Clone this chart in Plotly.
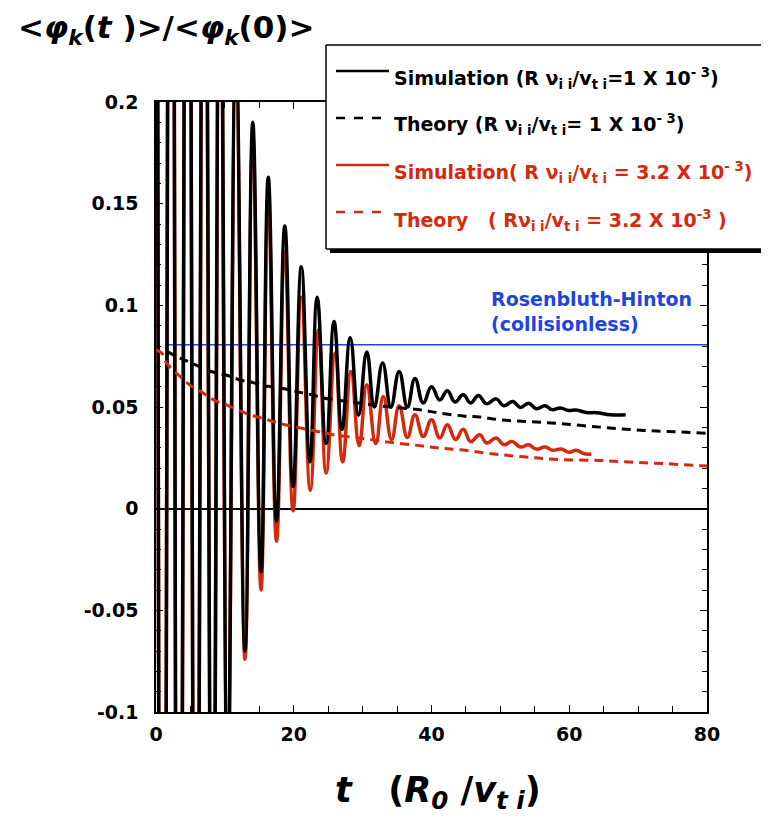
import plotly.graph_objects as go

# ---------------- data ----------------
sim1_t = [0.0, 0.95, 2.2, 3.3, 4.6, 5.8, 7.0, 8.2, 9.3, 10.4, 11.6, 12.92, 14.05, 15.25, 16.3, 17.5,
          18.7, 19.9, 21.1, 22.35, 23.4, 24.7, 25.85, 27.0, 28.2, 29.4, 30.6, 31.7, 32.9, 34.1,
          35.3, 36.5, 37.6, 38.8, 40.0, 41.2, 42.3, 43.4, 44.6, 45.7, 46.8, 48.0, 49.4, 50.5,
          51.8, 52.9, 54.1, 55.2, 56.5, 57.5, 58.7, 59.9, 61.0, 62.5, 64.0, 66.0, 68.2]
sim1_v = [1.0, -0.6, 0.6, -0.45, 0.5, -0.35, 0.42, -0.25, 0.33, -0.14, 0.23, -0.070, 0.190, -0.031, 0.163, -0.006,
          0.139, 0.011, 0.119, 0.023, 0.104, 0.032, 0.092, 0.039, 0.084, 0.046, 0.077, 0.050, 0.0716, 0.050,
          0.0675, 0.050, 0.064, 0.052, 0.060, 0.0535, 0.058, 0.0525, 0.056, 0.052, 0.0557, 0.0516, 0.054, 0.0506,
          0.0527, 0.0498, 0.0519, 0.0491, 0.0506, 0.0487, 0.0495, 0.0483, 0.0485, 0.0473, 0.0472, 0.0462, 0.0462]

sim2_t = [0.0, 0.95, 2.2, 3.3, 4.6, 5.8, 7.0, 8.2, 9.3, 10.4, 11.6, 12.92, 14.05, 15.25, 16.3, 17.5,
          18.7, 19.9, 21.1, 22.4, 23.6, 24.7, 26.0, 27.1, 28.3, 29.5, 30.6, 31.9, 33.0, 34.2,
          35.3, 36.5, 37.6, 38.8, 40.0, 41.2, 42.3, 43.5, 44.6, 45.7, 47.0, 48.0, 49.4, 50.5,
          51.7, 52.9, 54.1, 55.2, 56.5, 57.6, 58.8, 60.0, 61.0, 62.2, 63.2]
sim2_v = [1.0, -0.58, 0.58, -0.44, 0.48, -0.35, 0.40, -0.26, 0.31, -0.15, 0.22, -0.074, 0.181, -0.040, 0.152, -0.016,
          0.126, -0.001, 0.104, 0.009, 0.088, 0.0175, 0.0765, 0.023, 0.0675, 0.031, 0.061, 0.032, 0.0552, 0.034,
          0.0506, 0.035, 0.0462, 0.0355, 0.0437, 0.0347, 0.0413, 0.034, 0.039, 0.033, 0.0364, 0.0323, 0.0347, 0.0314,
          0.033, 0.0303, 0.0314, 0.0293, 0.0303, 0.0287, 0.0293, 0.0277, 0.0287, 0.027, 0.0269]

th1_t = [1.5, 3.5, 5.2, 7.1, 8.8, 10.5, 12.1, 14.1, 15.7, 17.5, 19.2, 20.9, 22.6, 24.3, 26.0,
         30.0, 34.0, 38.3, 41.2, 44.6, 47.0, 49.9, 53.8, 58.7, 64.5, 69.3, 74.1, 80.0]
th1_v = [0.0775, 0.074, 0.0716, 0.0686, 0.0667, 0.0654, 0.0634, 0.062, 0.0604, 0.0598, 0.0585, 0.0572, 0.056, 0.0544, 0.0535,
         0.0517, 0.0500, 0.0486, 0.047, 0.0456, 0.0451, 0.0437, 0.0429, 0.0418, 0.0401, 0.0388, 0.038, 0.0371]

th2_t = [0.0, 0.83, 1.55, 3.5, 4.9, 6.9, 8.3, 10.3, 11.9, 13.6, 15.3, 17.0, 18.7, 20.4, 24.1, 25.7,
         30.0, 34.0, 38.3, 41.2, 44.6, 49.0, 53.8, 58.7, 64.5, 69.3, 74.1, 79.2, 80.0]
th2_v = [0.078, 0.0765, 0.0716, 0.065, 0.0609, 0.0568, 0.0536, 0.0509, 0.0486, 0.0462, 0.0446, 0.0429, 0.0413, 0.0401, 0.0375, 0.0364,
         0.0345, 0.0326, 0.031, 0.0298, 0.0288, 0.0269, 0.0254, 0.0241, 0.0237, 0.0228, 0.0221, 0.0211, 0.021]

rh_t = [1.8, 80.0]
rh_v = [0.0806, 0.0806]

ytick_vals = [-0.1, -0.05, 0, 0.05, 0.1, 0.15, 0.2]
ytick_text = ["-0.1", "-0.05", "0", "0.05", "0.1", "0.15", "0.2"]
xtick_vals = [0, 20, 40, 60, 80]

legend_labels = [
    "Simulation (R<i> </i>ν<sub>i i</sub>/v<sub>t i</sub>=1 X 10<sup>- 3</sup>)",
    "Theory (R<i> </i>ν<sub>i i</sub>/v<sub>t i</sub>= 1 X 10<sup>- 3</sup>)",
    "Simulation( R<i> </i>ν<sub>i i</sub>/v<sub>t i</sub> = 3.2 X 10<sup>- 3</sup>)",
    "Theory &nbsp; ( Rν<sub>i i</sub>/v<sub>t i</sub> = 3.2 X 10<sup>-3</sup> )",
]

# ---------------- styling ----------------
BLACK = "#000000"
RED = "#d3290d"
BLUE = "#1f45e0"
OFF = 8                      # page body margin in the browser
W, H = 769 - OFF, 822 - 2 * OFF
L, T = 156 - OFF, 102 - OFF  # plot area starts at (156, 102) on screen
PW, PH = 551, 610
R = W - L - PW
B = H - T - PH
FONT = "DejaVu Sans"


def px(xp):
    """screen x pixel -> paper x"""
    return (xp - OFF - L) / PW


def py(yp):
    """screen y pixel -> paper y"""
    return (T + PH - (yp - OFF)) / PH


fig = go.Figure()
fig.add_trace(go.Scatter(x=rh_t, y=rh_v, mode="lines", line=dict(color=BLUE, width=1.5), showlegend=False))
fig.add_trace(go.Scatter(x=sim2_t, y=sim2_v, mode="lines",
                         line=dict(color=RED, width=3.5, shape="spline", smoothing=1.3), showlegend=False))
fig.add_trace(go.Scatter(x=sim1_t, y=sim1_v, mode="lines",
                         line=dict(color=BLACK, width=3.5, shape="spline", smoothing=1.3), showlegend=False))
fig.add_trace(go.Scatter(x=th2_t, y=th2_v, mode="lines",
                         line=dict(color=RED, width=3, dash="9px,6px", shape="spline"), showlegend=False))
fig.add_trace(go.Scatter(x=th1_t, y=th1_v, mode="lines",
                         line=dict(color=BLACK, width=3, dash="9px,6px", shape="spline"), showlegend=False))

axis_common = dict(showline=True, linecolor=BLACK, linewidth=1.5, mirror="ticks", ticks="inside",
                   ticklen=7, tickwidth=1.2, tickcolor=BLACK, showgrid=False,
                   tickfont=dict(family=FONT, size=19, color=BLACK, weight="bold"))
fig.update_xaxes(range=[0, 80], tickvals=xtick_vals, ticklabelstandoff=4,
                 minor=dict(dtick=5, ticks="inside", ticklen=6, tickcolor=BLACK, tickwidth=1.2),
                 zeroline=False, **axis_common)
fig.update_yaxes(range=[-0.1, 0.2], tickvals=ytick_vals, ticktext=ytick_text, ticklabelstandoff=12,
                 minor=dict(dtick=0.01, ticks="inside", ticklen=5, tickcolor=BLACK, tickwidth=1.2),
                 zeroline=True, zerolinecolor=BLACK, zerolinewidth=1.5, **axis_common)

# legend box: shadow, white panel, and border on three sides (it runs past the right edge)
BX0, BX1, BY0, BY1 = 326, 900, 45, 249
shapes = [
    dict(type="rect", xref="paper", yref="paper", x0=px(BX0 + 4), x1=px(BX1 + 4), y0=py(BY1 + 4), y1=py(BY0 + 4),
         fillcolor=BLACK, line=dict(width=0), layer="above"),
    dict(type="rect", xref="paper", yref="paper", x0=px(BX0), x1=px(BX1), y0=py(BY1), y1=py(BY0),
         fillcolor="white", line=dict(width=0), layer="above"),
    dict(type="line", xref="paper", yref="paper", x0=px(BX0), x1=px(BX1), y0=py(BY0), y1=py(BY0),
         line=dict(color=BLACK, width=1.5), layer="above"),
    dict(type="line", xref="paper", yref="paper", x0=px(BX0), x1=px(BX1), y0=py(BY1), y1=py(BY1),
         line=dict(color=BLACK, width=1.5), layer="above"),
    dict(type="line", xref="paper", yref="paper", x0=px(BX0), x1=px(BX0), y0=py(BY1), y1=py(BY0),
         line=dict(color=BLACK, width=1.5), layer="above"),
]
sample_rows = [(71, BLACK, "solid"), (118, BLACK, "dash"), (165, RED, "solid"), (212, RED, "dash")]
for yy, col, dsh in sample_rows:
    shapes.append(dict(type="line", xref="paper", yref="paper", x0=px(336), x1=px(389), y0=py(yy), y1=py(yy),
                       line=dict(color=col, width=2.5, dash=dsh), layer="above"))

annotations = []
text_rows = [(78, BLACK), (125, BLACK), (172, RED), (220, RED)]
for (yy, col), lab in zip(text_rows, legend_labels):
    annotations.append(dict(xref="paper", yref="paper", x=px(392), y=py(yy), xanchor="left", yanchor="middle",
                            text=lab, showarrow=False,
                            font=dict(family=FONT, size=19, color=col, weight="bold")))

annotations.append(dict(xref="paper", yref="paper", x=px(489), y=py(311), xanchor="left", yanchor="middle",
                        text="Rosenbluth-Hinton<br>(collisionless)", align="left", showarrow=False,
                        font=dict(family=FONT, size=19, color=BLUE, weight="bold")))
annotations.append(dict(xref="paper", yref="paper", x=px(16), y=py(30), xanchor="left", yanchor="middle",
                        text="&lt;<i>φ</i><sub><i>k</i></sub>(<i>t</i> )&gt;/&lt;<i>φ</i><sub><i>k</i></sub>(0)&gt;",
                        showarrow=False, font=dict(family=FONT, size=31, color=BLACK, weight="bold")))
annotations.append(dict(xref="paper", yref="paper", x=px(438), y=py(792), xanchor="center", yanchor="middle",
                        text="<i>t</i>&nbsp;&nbsp;&nbsp;(<i>R</i><sub><i>0</i></sub> /<i>v</i><sub><i>t i</i></sub>)",
                        showarrow=False, font=dict(family=FONT, size=35, color=BLACK, weight="bold")))

fig.update_layout(width=W, height=H, autosize=False, margin=dict(l=L, r=R, t=T, b=B),
                  plot_bgcolor="white", paper_bgcolor="white", showlegend=False,
                  shapes=shapes, annotations=annotations)

fig.write_html("out.html")
